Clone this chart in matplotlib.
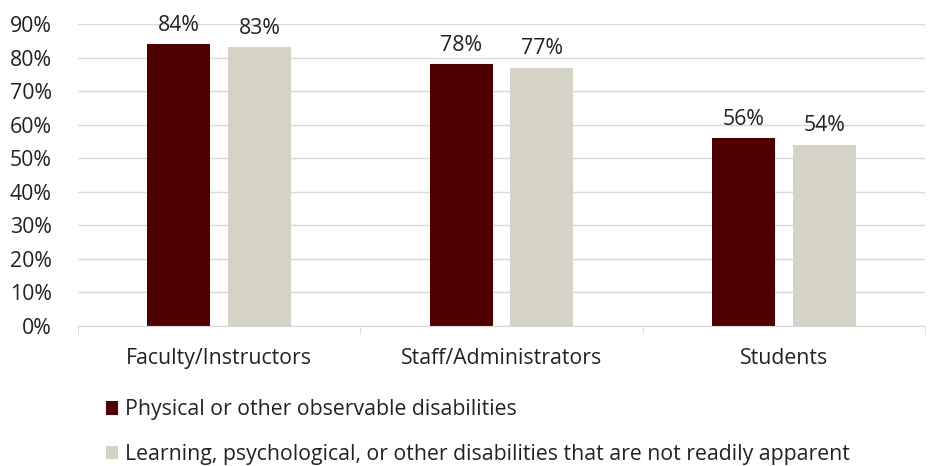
import numpy as np
import matplotlib.pyplot as plt
from matplotlib.ticker import FixedLocator, PercentFormatter

# Valors llegits del gràfic
categories = ['Faculty/Instructors', 'Staff/Administrators', 'Students']
series_names = ['Physical or other observable disabilities',
                'Learning, psychological, or other disabilities that are not readily apparent']
observable = [84, 78, 56]
not_apparent = [83, 77, 54]
colors = ['#500000', '#D5D3C5']

plt.rcParams['font.family'] = ['Open Sans', 'DejaVu Sans']
fs = 15.3

fig = plt.figure(figsize=(9.33, 4.66), dpi=100, facecolor='white')
ax = fig.add_axes([78 / 933, 1 - 326 / 466, (925 - 78) / 933, (326 - 24) / 466])

x = np.arange(len(categories))
w = 0.223
off = 0.143
b1 = ax.bar(x - off, observable, w, color=colors[0], label=series_names[0])
b2 = ax.bar(x + off, not_apparent, w, color=colors[1], label=series_names[1])
for bars in (b1, b2):
    ax.bar_label(bars, labels=[f'{v:.0f}%' for v in bars.datavalues],
                 padding=6, fontsize=fs, color='#222222')

ax.set_xlim(-0.5, len(categories) - 0.5)
ax.set_ylim(0, 90)
ax.set_yticks(np.arange(0, 91, 10))
ax.yaxis.set_major_formatter(PercentFormatter(decimals=0))
ax.set_xticks(x)
ax.set_xticklabels(categories)
ax.xaxis.set_minor_locator(FixedLocator(np.arange(-0.5, len(categories), 1)))
ax.tick_params(axis='x', which='major', length=0, pad=16, labelsize=fs, labelcolor='#222222')
ax.tick_params(axis='x', which='minor', length=6, color='#D9D9D9')
ax.tick_params(axis='y', length=0, pad=19, labelsize=fs, labelcolor='#222222')

ax.grid(axis='y', color='#D9D9D9', linewidth=1)
ax.set_axisbelow(True)
for s in ['left', 'right', 'top']:
    ax.spines[s].set_visible(False)
ax.spines['bottom'].set_color('#D9D9D9')

fig.legend(loc='upper left', bbox_to_anchor=(97 / 933, 1 - 391 / 466), frameon=False,
           fontsize=fs, handlelength=0.6, handleheight=0.6, handletextpad=0.3,
           labelspacing=1.1, borderaxespad=0, labelcolor='#222222')

fig.savefig('out.png', dpi=100)
